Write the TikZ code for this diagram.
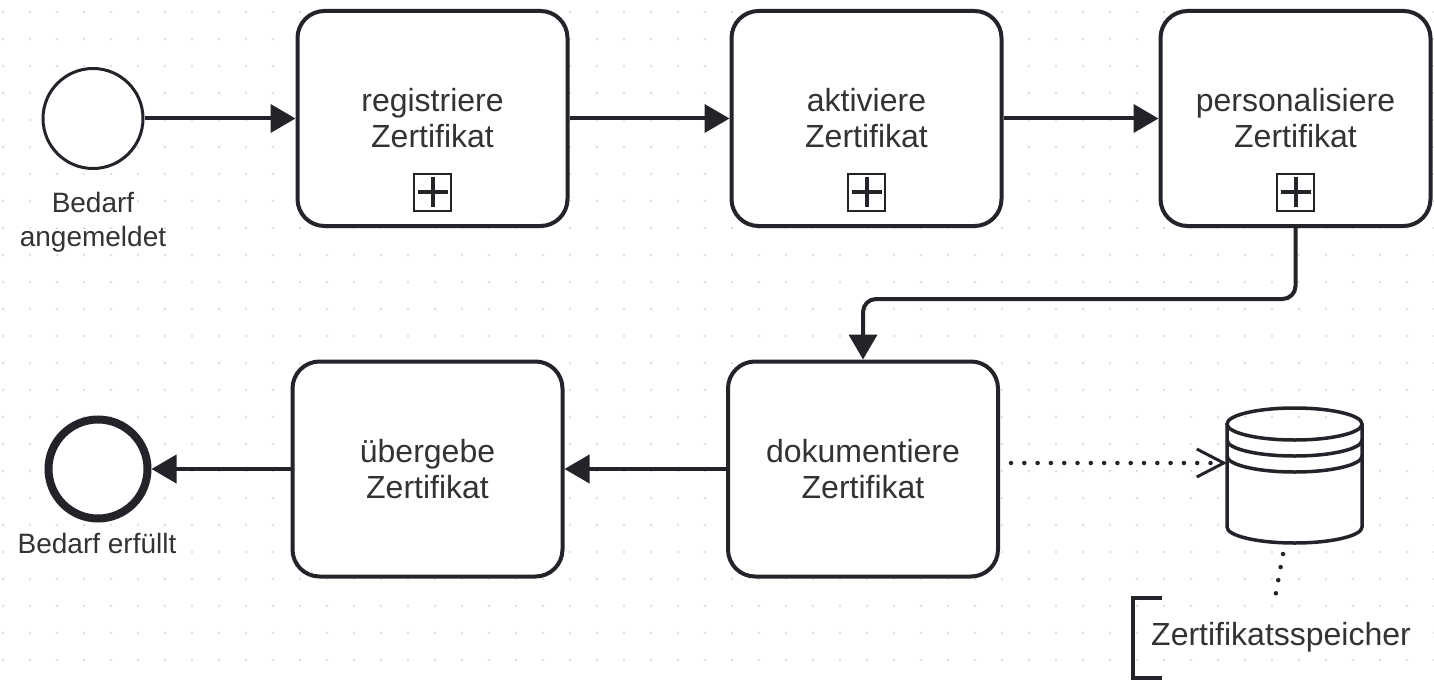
\documentclass[tikz,border=0pt]{standalone}
\usepackage{fontspec}
\setmainfont{Liberation Sans}
\usetikzlibrary{arrows.meta,calc}
\definecolor{ln}{HTML}{22242A}
\definecolor{tx}{HTML}{333333}
\definecolor{gridc}{HTML}{D6D6D6}
\begin{document}
\begin{tikzpicture}[x=1pt,y=-1pt,
  task/.style={draw=ln,line width=4pt,rounded corners=27pt,minimum width=270pt,minimum height=215pt,inner sep=0pt,align=center,text=tx,font=\fontsize{32}{36}\selectfont},
  marker/.style={draw=ln,line width=2pt,minimum size=37pt,inner sep=0pt},
  plusarm/.style={draw=ln,line width=4pt},
  flow/.style={draw=ln,line width=4pt,-{Triangle[length=25pt,width=28pt]}},
  assoc/.style={draw=ln,line width=4.5pt,line cap=round,dash pattern=on 0pt off 13.3pt},
  lbl/.style={text=tx,align=center,inner sep=0pt,font=\fontsize{28}{34}\selectfont},
  ann/.style={text=tx,inner sep=0pt,font=\fontsize{32}{36}\selectfont},
  dsline/.style={draw=ln,line width=3.5pt},
]
\fill[white] (0,0) rectangle (1434,682);
\useasboundingbox (0,0) rectangle (1434,682);
% grid
\foreach \gx in {3,30,...,1434} {
  \foreach \gy in {12,39,...,682} {
    \fill[gridc] (\gx,\gy) circle[radius=1.1pt];
  }
}
% events
\node (start) [circle,draw=ln,line width=3pt,minimum size=100pt,inner sep=0pt,fill=white] at (93,118.5) {};
\node (end) [circle,draw=ln,line width=8pt,minimum size=99pt,inner sep=0pt,fill=white] at (98,469) {};
\node (l1) [lbl] at (93,222) {Bedarf\\angemeldet};
\node (l2) [lbl,anchor=base] at (97,553) {Bedarf erfüllt};
% tasks
\node (t1) [task,fill=white] at (432.5,118.5) {registriere\\Zertifikat};
\node (t2) [task,fill=white] at (866.5,118.5) {aktiviere\\Zertifikat};
\node (t3) [task,fill=white] at (1295.5,118.5) {personalisiere\\Zertifikat};
\node (t4) [task,fill=white] at (863,469) {dokumentiere\\Zertifikat};
\node (t5) [task,fill=white] at (427.5,469) {übergebe\\Zertifikat};
% subprocess markers
\node (m1) [marker] at ($(t1.south)+(0,-36)$) {};
\node (m2) [marker] at ($(t2.south)+(0,-36)$) {};
\node (m3) [marker] at ($(t3.south)+(0,-36)$) {};
\foreach \m in {m1,m2,m3} {
  \draw[plusarm] ($(\m.center)+(-15,0)$) -- ($(\m.center)+(15,0)$);
  \draw[plusarm] ($(\m.center)+(0,-15)$) -- ($(\m.center)+(0,15)$);
}
% sequence flows
\draw[flow] (start) -- (t1);
\draw[flow] (t1) -- (t2);
\draw[flow] (t2) -- (t3);
\draw[flow,rounded corners=13pt] (t3.south) -- ++(0,71) -| (t4.north);
\draw[flow] (t4) -- (t5);
\draw[flow] (t5) -- (end);
% data store
\draw[dsline,fill=white] (1227,424) -- (1227,527) arc[start angle=180,end angle=0,x radius=67.5,y radius=16] -- (1362,424);
\draw[dsline] (1294.5,424) ellipse[x radius=67.5,y radius=16];
\draw[dsline] (1227,440) arc[start angle=180,end angle=0,x radius=67.5,y radius=16];
\draw[dsline] (1227,456) arc[start angle=180,end angle=0,x radius=67.5,y radius=16];
\coordinate (dsW) at (1227,463);
\coordinate (dsS) at (1283,554);
% data association
\draw[assoc,-{Straight Barb[length=27pt,width=28pt,line width=3pt]},shorten <=11pt] (t4.east |- dsW) -- (dsW);
% annotation
\node (ann) [ann,anchor=west] at (1151,637) {Zertifikatsspeicher};
\coordinate (annT) at (1275,598);
\draw[assoc] (dsS) -- (annT);
\draw[draw=ln,line width=4pt] (1162,598) -- (1133,598) -- (1133,678) -- (1162,678);
\end{tikzpicture}
\end{document}
